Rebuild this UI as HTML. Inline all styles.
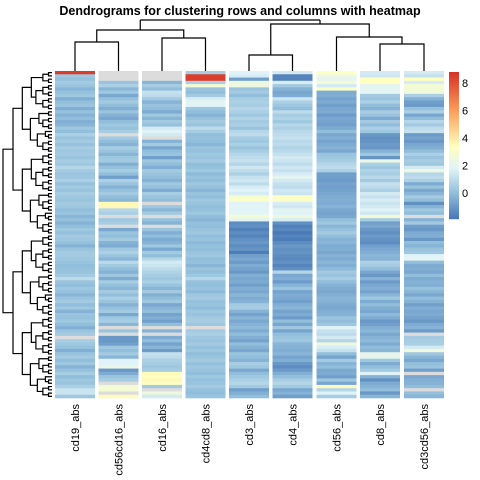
<!DOCTYPE html>
<html><head><meta charset="utf-8"><style>
html,body{margin:0;padding:0;background:#fff;}
svg{display:block;font-family:"Liberation Sans",Arial,sans-serif;}
</style></head><body>
<svg id="chart" width="480" height="480" viewBox="0 0 480 480">
<rect width="480" height="480" fill="#fff"/>
<text x="240" y="15" text-anchor="middle" font-size="12.5" font-weight="bold" fill="#000">Dendrograms for clustering rows and columns with heatmap</text>
<g id="coldendro" stroke="#000" stroke-width="1.2" fill="none"></g>
<g id="rowdendro" stroke="#000" stroke-width="1.2" fill="none"></g>
<g id="cells"></g>
<g id="labels"></g>
<g id="legend"></g>
</svg>
<script>
const colNames=["cd19_abs","cd56cd16_abs","cd16_abs","cd4cd8_abs","cd3_abs","cd4_abs","cd56_abs","cd8_abs","cd3cd56_abs"];
const legendTicks=[0,2,4,6,8];
const cd19=[8.5,0.3,0.1,0.4,0.2,-0.2,0.1,0.3,-0.4,0.0,0.2,-0.4,0.1,-0.3,0.0,-0.4,-0.2,0.3,0.0,0.6,0.2,0.4,0.1,0.5,0.3,
0.4,0.2,0.5,0.3,0.8,0.4,0.2,0.3,0.6,0.1,0.4,0.2,0.5,0.3,0.2,0.4,0.3,0.0,0.2,-0.2,0.1,-0.3,0.0,0.3,0.1,
0.4,0.3,0.1,-0.3,0.2,0.4,0.4,0.3,0.2,0.0,0.1,0.2,0.4,1.0,0.2,0.0,0.3,0.1,-0.2,0.2,0.4,0.0,0.3,-0.3,0.2,
0.1,0.3,0.0,-0.4,0.2,0.4,null,0.5,0.3,0.1,-0.4,0.2,0.4,0.0,0.3,-0.3,0.1,0.5,0.0,0.3,0.2,0.6,1.3,1.3,0.3];
const cd56cd16=[null,null,null,0.2,0.6,-0.2,0.3,-0.6,0.1,0.4,0.0,-0.4,0.2,-0.3,-0.6,0.0,0.3,0.1,0.5,null,0.4,0.0,-0.3,0.5,0.2,-0.2,0.3,0.4,-0.4,0.1,0.5,0.0,-0.8,0.6,0.2,-0.3,0.1,0.4,0.0,-0.2,3.6,3.6,0.8,0.6,null,0.3,0.5,null,-0.6,0.2,
0.0,0.4,-0.3,-0.5,0.3,0.6,0.2,-0.2,0.9,0.4,0.0,-0.3,0.3,-0.5,0.5,0.1,-0.2,0.4,0.0,0.6,0.2,-0.3,0.1,0.4,-0.6,0.3,0.5,-0.2,null,0.2,null,-1.0,-1.0,-0.8,0.3,0.0,0.4,-0.2,1.8,1.8,2.3,-1.0,-0.5,0.2,0.5,null,2.8,2.8,null,3.5];
const cd16=[null,null,null,-0.2,0.5,0.0,1.2,1.0,0.4,-0.3,0.2,0.0,-0.5,0.3,-0.2,0.4,0.1,1.5,1.8,1.5,null,-0.3,0.4,-0.6,0.0,0.2,-0.8,0.3,0.0,-0.4,0.4,0.2,0.0,-0.3,0.3,0.1,-0.5,0.5,0.2,0.0,null,0.3,-0.2,0.4,null,0.1,-0.3,null,0.2,-0.4,
0.0,-0.5,-0.3,0.3,-0.6,0.4,0.0,0.8,1.5,1.3,1.0,0.7,0.5,0.3,0.6,0.2,-0.2,0.4,-0.4,0.0,0.3,-0.6,-0.2,0.0,-0.7,-0.4,-0.8,0.0,null,-0.3,null,-0.5,0.0,-0.7,-0.2,-0.9,1.2,1.0,0.6,0.5,0.3,0.5,3.5,3.4,3.6,3.3,0.4,null,2.5,1.5];
const cd4cd8=[0.5,8.5,8.5,0.6,2.8,0.2,0.0,0.4,1.6,2.0,1.8,0.3,0.0,-0.3,0.1,0.4,0.2,1.0,0.5,0.0,0.1,0.0,-0.2,0.2,0.1,0.3,0.2,0.4,0.0,0.1,0.3,-0.1,0.2,0.0,0.3,0.1,-0.2,0.2,0.0,0.3,0.2,0.0,0.1,0.3,0.0,-0.2,0.1,0.0,0.2,0.3,
0.0,0.2,-0.1,0.1,0.0,0.2,0.3,0.0,0.1,-0.2,0.2,0.0,0.3,0.8,0.1,0.0,0.2,-0.1,0.3,0.4,0.1,0.2,0.0,0.3,0.2,0.4,0.5,0.3,null,0.4,0.6,0.3,0.2,0.4,0.1,0.3,0.0,0.2,0.4,0.1,0.3,0.2,0.0,0.3,0.1,0.2,0.4,0.1,0.0,0.2];
const cd3=[1.8,1.6,-0.8,2.5,2.5,0.2,0.4,0.0,0.5,0.6,0.5,0.8,0.6,0.3,0.7,0.4,0.6,0.2,0.8,1.0,0.5,0.3,0.6,0.2,0.5,0.8,1.0,1.2,0.8,1.4,1.0,0.6,1.2,1.4,1.0,1.6,1.8,1.6,3.0,3.2,1.8,1.9,1.8,2.0,2.8,2.0,-1.3,-1.2,-1.6,-1.3,
-1.5,-1.2,-1.0,-1.3,-1.1,-1.7,-0.8,-0.6,-0.9,-0.5,-0.7,-1.0,-0.4,-0.6,-0.5,-0.8,-0.4,-0.6,-0.2,-0.5,-0.3,0.4,0.5,-0.3,-0.7,-0.2,-0.6,-0.3,-0.1,-0.5,0.0,-0.4,-0.7,0.0,-0.3,-0.6,0.2,0.0,-0.3,0.5,0.3,-0.6,0.0,0.3,0.6,0.8,0.4,-0.8,-0.4,0.0];
const cd4=[1.5,-1.5,-1.5,1.6,0.4,-0.3,-0.6,-0.5,1.3,0.6,0.3,0.0,1.0,0.5,0.7,0.3,0.8,0.6,0.9,1.0,1.2,0.9,1.0,0.7,0.9,1.2,1.5,1.3,1.0,1.4,1.2,1.6,2.0,1.5,1.2,1.0,1.4,1.3,3.3,3.2,1.6,1.4,2.0,1.8,2.5,1.6,-1.2,-1.6,-1.4,-1.8,
-1.5,-1.7,-1.3,-1.0,-1.2,-1.1,-1.3,-1.4,-1.2,-1.5,-1.2,0.8,-0.6,-0.4,-0.9,-0.3,0.2,-0.7,-0.5,-0.6,-0.8,-0.4,-0.2,-0.7,-0.5,-0.9,0.0,-0.6,0.3,-0.7,0.0,0.2,0.3,-0.2,-0.3,-0.4,-0.2,-0.7,-0.4,-1.0,-1.3,-0.9,-0.4,0.0,0.5,0.8,0.4,-0.6,-0.3,-0.8];
const cd56=[3.4,2.4,2.0,2.8,1.5,3.2,-0.5,-0.4,-0.7,-0.5,-0.8,-0.6,-0.5,-0.9,-0.6,-0.7,-0.8,-0.5,0.0,-0.6,-0.4,-0.7,-0.5,-0.3,-0.6,0.2,0.3,0.5,0.8,1.0,0.6,-0.8,-0.8,-0.9,-0.7,-0.8,-0.7,-0.6,-0.5,-0.4,-0.5,-0.3,-0.6,-0.7,-0.6,0.0,0.3,-0.2,0.1,0.4,
0.0,-0.3,-0.2,-0.5,-0.4,-0.6,-0.3,-0.5,-0.2,-0.4,-0.1,0.4,0.2,0.5,0.0,-0.3,-0.5,-0.6,-0.4,-0.2,-0.3,-0.5,-0.6,-0.4,-0.3,0.2,0.0,0.3,1.8,1.2,1.0,1.5,0.8,2.5,1.6,1.2,0.0,-0.7,0.4,-0.3,0.0,-0.6,-0.5,-0.8,0.3,-0.6,3.6,0.8,1.8,0.5];
const cd8=[1.5,1.4,3.4,3.4,2.0,2.0,1.9,0.4,0.2,0.6,0.0,-0.3,0.5,0.2,-0.5,0.4,0.0,0.6,0.3,-1.0,-1.2,-1.1,-0.9,-1.0,-0.3,0.3,-1.1,2.4,0.6,0.3,0.7,0.5,0.9,0.4,1.2,1.0,0.6,1.5,1.2,1.6,1.3,1.5,1.8,1.4,2.8,0.5,-0.8,-0.6,-1.0,-1.2,
-0.9,-1.1,-1.3,-0.8,-0.6,-0.4,-0.2,-0.3,0.6,0.4,0.0,-0.6,-1.0,-0.3,-0.9,-0.6,-0.4,-0.7,-0.2,0.3,-0.5,0.0,-0.4,-0.6,-0.1,-0.5,-1.0,-0.8,-0.4,-0.2,-0.6,-0.3,-0.1,-0.5,0.0,-0.2,2.2,2.1,0.3,-0.5,0.0,0.4,1.8,-0.3,-1.2,-0.5,-0.3,0.0,-1.0,-0.2];
const cd3cd56=[1.5,1.2,3.4,1.6,2.8,2.8,2.6,0.6,-0.3,-0.8,-0.9,0.1,0.6,-0.6,0.0,0.8,0.4,1.0,1.2,-0.9,-0.7,-1.0,-0.6,-0.4,0.0,0.6,0.2,0.5,0.3,1.5,2.4,0.8,1.0,0.6,-0.5,0.2,-0.6,-0.2,0.4,0.0,-1.2,-0.3,0.3,0.0,null,-0.3,0.4,-0.8,-1.0,-0.5,
-0.4,-1.0,0.0,-0.3,0.2,0.3,1.8,1.9,0.0,-0.5,-0.4,-0.6,0.0,-0.5,-0.3,-0.4,0.1,-0.2,-0.6,0.0,-0.3,-0.8,-0.4,-0.6,-0.5,-0.7,-1.0,-0.5,-0.3,-0.9,null,0.4,0.5,0.6,1.5,2.6,0.3,-0.2,-0.6,0.0,0.2,-0.8,null,-0.6,-0.4,-0.3,0.0,null,0.0,-0.2];
const columns=[cd19,cd56cd16,cd16,cd4cd8,cd3,cd4,cd56,cd8,cd3cd56];

const NS="http://www.w3.org/2000/svg";
function mk(tag,attrs,parent){const e=document.createElementNS(NS,tag);for(const k in attrs)e.setAttribute(k,attrs[k]);parent.appendChild(e);return e;}
// color scale
const stops=[[-1.9,[69,117,180]],[0,[145,190,219]],[1.8,[224,243,248]],[3.4,[255,255,191]],[6,[252,158,90]],[8.8,[215,48,39]]];
function color(v){if(v===null)return "#dcdcdc";if(v<=stops[0][0])return rgb(stops[0][1]);
for(let i=1;i<stops.length;i++){if(v<=stops[i][0]){const a=stops[i-1],b=stops[i],t=(v-a[0])/(b[0]-a[0]);return rgb(a[1].map((c,j)=>c+(b[1][j]-c)*t));}}return rgb(stops[stops.length-1][1]);}
function rgb(c){return "rgb("+c.map(Math.round).join(",")+")";}
// axes
const top0=71,bot0=398,nRows=cd19.length,rowH=(bot0-top0)/nRows;
const colX=[55,98.5,142,185.5,229,272.5,316.5,360,404],colW=40;
function yRow(i){return top0+i*rowH;}
const cells=document.getElementById('cells');
columns.forEach((col,ci)=>{col.forEach((v,ri)=>{
 const r=mk('rect',{x:colX[ci],y:yRow(ri).toFixed(2),width:colW,height:(rowH+0.3).toFixed(2),fill:color(v)},cells);
 
 
});});
// labels
const lab=document.getElementById('labels');
colNames.forEach((n,ci)=>{const cx=colX[ci]+colW/2+4;
 const t=mk('text',{x:0,y:0,transform:`translate(${cx},404) rotate(-90)`,'text-anchor':'end','font-size':'11',fill:'#000'},lab);
 t.textContent=n;
 
 
});
// column dendrogram
const cd=document.getElementById('coldendro');
function cen(i){return colX[i]+colW/2;}
function seg(d){const p=mk('path',{d:d},cd);}
const l12=(cen(0)+cen(1))/2,l34=(cen(2)+cen(3))/2,lL=(l12+l34)/2;
seg(`M${cen(0)},71V42H${cen(1)}V71M${cen(2)},71V38H${cen(3)}V71M${l12},42V30H${l34}V38M${lL},30V20`);
const r56=(cen(4)+cen(5))/2,r89=(cen(7)+cen(8))/2,r7=(cen(6)+r89)/2,rR=(r56+r7)/2;
seg(`M${cen(4)},71V55H${cen(5)}V71M${cen(7)},71V44H${cen(8)}V71M${cen(6)},71V37H${r89}V44M${r56},55V24H${r7}V37M${rR},24V20M${lL},20H${rR}`);
// row dendrogram
const rd=document.getElementById('rowdendro');
function build(a,b){if(b-a===1)return{y:yRow(a)+rowH/2,x:52};
 const m=a+Math.floor((b-a)*((b-a)%3===0?0.34:0.5));const L=build(a,m),R=build(m,b);
 const s=b-a;const x=52-49*Math.pow(Math.log(s)/Math.log(nRows),1.4);
 const p=mk('path',{d:`M${L.x},${L.y}H${x}V${R.y}H${R.x}`},rd);
 
 
 return{y:(L.y+R.y)/2,x:x};}
build(0,nRows);
// legend
const lg=document.getElementById('legend');
const lTop=72,lBot=219,vTop=8.8,vBot=-1.9;
function ly(v){return lBot-(v-vBot)/(vTop-vBot)*(lBot-lTop);}
for(let y=lTop;y<lBot;y+=1){const v=vBot+(lBot-y)/(lBot-lTop)*(vTop-vBot);
 const r=mk('rect',{x:449,y:y,width:10,height:1.2,fill:color(v)},lg);
 
 }
legendTicks.forEach(t=>{const tx=mk('text',{x:462,y:ly(t)+4,'font-size':'11',fill:'#000'},lg);
 tx.textContent=t;
 
 });
</script>
</body></html>
